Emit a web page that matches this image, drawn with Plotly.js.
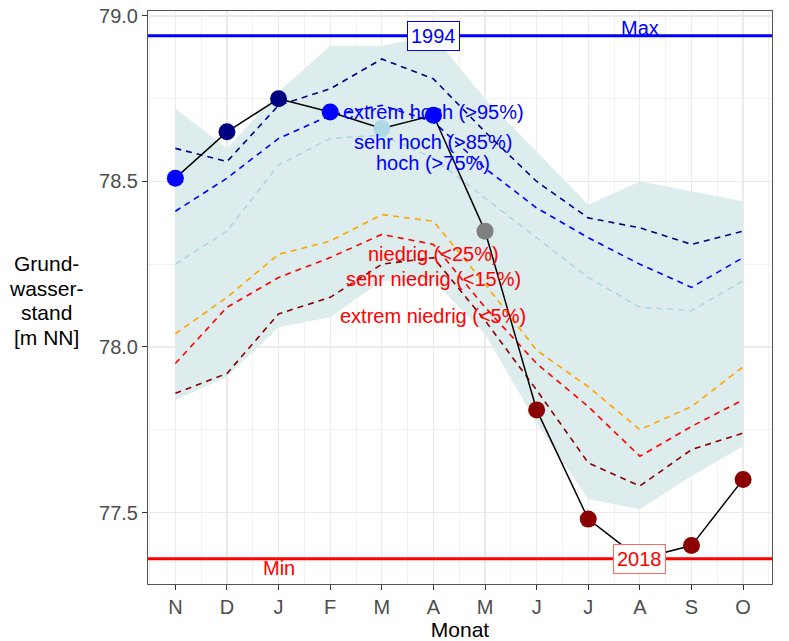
<!DOCTYPE html>
<html>
<head>
<meta charset="utf-8">
<script src="https://cdn.plot.ly/plotly-3.0.1.min.js"></script>
<style>
  html, body { margin: 0; padding: 0; background: #fff; }
  #chart { width: 789px; height: 641px; }
</style>
</head>
<body>
<div id="chart"></div>
<script>
// ---- data ----
const months = ['N', 'D', 'J', 'F', 'M', 'A', 'M', 'J', 'J', 'A', 'S', 'O'];

// observed groundwater level (black line with points)
const observed = [78.51, 78.65, 78.75, 78.71, 78.66, 78.70, 78.35, 77.81, 77.48, 77.36, 77.40, 77.60];
const observedClass = ['sehr hoch', 'extrem hoch', 'extrem hoch', 'sehr hoch', 'hoch', 'sehr hoch',
                       'normal', 'extrem niedrig', 'extrem niedrig', 'extrem niedrig', 'extrem niedrig', 'extrem niedrig'];

// range of all years (ribbon)
const rangeMax = [78.72, 78.60, 78.77, 78.91, 78.91, 78.94, 78.75, 78.59, 78.43, 78.50, 78.47, 78.44];
const rangeMin = [77.84, 77.91, 78.06, 78.09, 78.20, 78.20, 78.04, 77.77, 77.54, 77.51, 77.61, 77.70];

// percentile lines
const p95 = [78.60, 78.56, 78.73, 78.78, 78.87, 78.81, 78.65, 78.50, 78.39, 78.36, 78.31, 78.35];
const p85 = [78.41, 78.51, 78.63, 78.70, 78.73, 78.68, 78.54, 78.42, 78.33, 78.25, 78.18, 78.27];
const p75 = [78.25, 78.35, 78.55, 78.63, 78.64, 78.57, 78.45, 78.33, 78.21, 78.12, 78.11, 78.20];
const p25 = [78.04, 78.15, 78.28, 78.32, 78.40, 78.38, 78.19, 77.99, 77.88, 77.75, 77.82, 77.94];
const p15 = [77.95, 78.12, 78.21, 78.27, 78.34, 78.31, 78.12, 77.95, 77.82, 77.67, 77.76, 77.84];
const p05 = [77.86, 77.92, 78.10, 78.15, 78.25, 78.27, 78.08, 77.87, 77.65, 77.58, 77.69, 77.74];

// extremes
const maxLevel = 78.94, maxYear = '1994', maxMonthIndex = 5;
const minLevel = 77.36, minYear = '2018', minMonthIndex = 9;

// labels
const classLabels = [
  {text: 'extrem hoch (>95%)', y: 78.71, color: 'blue'},
  {text: 'sehr hoch (>85%)', y: 78.62, color: 'blue'},
  {text: 'hoch (>75%)', y: 78.555, color: 'blue'},
  {text: 'niedrig (<25%)', y: 78.282, color: 'red'},
  {text: 'sehr niedrig (<15%)', y: 78.205, color: 'red'},
  {text: 'extrem niedrig (<5%)', y: 78.095, color: 'red'}
];
const labelMonthIndex = 5;
const yTitleLines = ['Grund-', 'wasser-', 'stand', '[m NN]'];
const xTitle = 'Monat';

const classColors = {
  'extrem hoch': '#000080', 'sehr hoch': '#0000FF', 'hoch': '#ADD8E6',
  'normal': '#7F7F7F', 'niedrig': '#FFA500', 'sehr niedrig': '#FF0000', 'extrem niedrig': '#8B0000'
};

// ---- chart ----
const x = months.map((m, i) => i);
const FONT = '"Liberation Sans", Arial, sans-serif';
const dash = '6px,5px';

const traces = [
  {x: x, y: rangeMin, mode: 'lines', line: {width: 0, color: 'rgba(0,0,0,0)'}, hoverinfo: 'skip', showlegend: false},
  {x: x, y: rangeMax, mode: 'lines', line: {width: 0, color: 'rgba(0,0,0,0)'}, fill: 'tonexty',
   fillcolor: '#DDECEC', hoverinfo: 'skip', showlegend: false},
  {x: x, y: p05, mode: 'lines', line: {color: '#8B0000', width: 1.6, dash: dash}, showlegend: false},
  {x: x, y: p15, mode: 'lines', line: {color: '#FF0000', width: 1.6, dash: dash}, showlegend: false},
  {x: x, y: p25, mode: 'lines', line: {color: '#FFA500', width: 1.6, dash: dash}, showlegend: false},
  {x: x, y: p75, mode: 'lines', line: {color: '#ADD8E6', width: 1.6, dash: dash}, showlegend: false},
  {x: x, y: p85, mode: 'lines', line: {color: '#0000FF', width: 1.6, dash: dash}, showlegend: false},
  {x: x, y: p95, mode: 'lines', line: {color: '#000080', width: 1.6, dash: dash}, showlegend: false},
  {x: x, y: observed, mode: 'lines+markers', line: {color: '#000000', width: 1.5},
   marker: {size: 17, color: observedClass.map(c => classColors[c]), line: {width: 0}}, showlegend: false}
];

const annotations = classLabels.map(l => ({
  x: labelMonthIndex, y: l.y, xref: 'x', yref: 'y', text: l.text, showarrow: false,
  xanchor: 'center', yanchor: 'middle', font: {family: FONT, size: 20, color: l.color}
}));

annotations.push(
  {x: maxMonthIndex, y: maxLevel, xref: 'x', yref: 'y', text: maxYear, showarrow: false,
   bgcolor: '#FFFFFF', bordercolor: '#0000FF', borderwidth: 1, borderpad: 3,
   font: {family: FONT, size: 20, color: '#0000FF'}},
  {x: minMonthIndex, y: minLevel, xref: 'x', yref: 'y', text: minYear, showarrow: false,
   bgcolor: '#FFFFFF', bordercolor: '#FF6666', borderwidth: 1, borderpad: 3,
   font: {family: FONT, size: 20, color: '#FF0000'}},
  {x: minMonthIndex, y: maxLevel, xref: 'x', yref: 'y', text: 'Max', showarrow: false,
   yanchor: 'bottom', yshift: -5, font: {family: FONT, size: 20, color: '#0000FF'}},
  {x: 2, y: minLevel, xref: 'x', yref: 'y', text: 'Min', showarrow: false,
   yanchor: 'top', yshift: 4, font: {family: FONT, size: 20, color: '#FF0000'}}
);

// y-axis title, horizontal, one line per annotation (reference line spacing ~25px)
const yTitlePx = [263, 288, 312, 337];
yTitleLines.forEach((t, i) => {
  annotations.push({x: -0.162, y: (584 - yTitlePx[i]) / 573, xref: 'paper', yref: 'paper',
    xanchor: 'center', yanchor: 'middle', text: t, showarrow: false,
    font: {family: FONT, size: 21, color: '#000000'}});
});

const shapes = [
  {type: 'line', xref: 'paper', x0: 0, x1: 1, yref: 'y', y0: maxLevel, y1: maxLevel,
   line: {color: '#0000FF', width: 3}, layer: 'above'},
  {type: 'line', xref: 'paper', x0: 0, x1: 1, yref: 'y', y0: minLevel, y1: minLevel,
   line: {color: '#FF0000', width: 3}, layer: 'above'}
];

const layout = {
  width: 789, height: 641,
  margin: {l: 148, r: 17, t: 11, b: 57},
  paper_bgcolor: '#FFFFFF', plot_bgcolor: '#FFFFFF',
  font: {family: FONT},
  showlegend: false,
  xaxis: {
    range: [-0.53, 11.56], tickmode: 'array', tickvals: x, ticktext: months,
    ticks: 'outside', ticklen: 5, tickwidth: 1, tickcolor: '#333333',
    showgrid: true, gridcolor: '#EBEBEB', gridwidth: 1.2,
    minor: {tickmode: 'linear', tick0: -0.5, dtick: 1, showgrid: true, gridcolor: '#F0F0F0', gridwidth: 0.9, ticks: ''},
    zeroline: false, showline: true, mirror: true, linecolor: '#555555', linewidth: 1,
    tickfont: {family: FONT, size: 20, color: '#4D4D4D'},
    title: {text: xTitle, font: {family: FONT, size: 21, color: '#000000'}, standoff: 3}
  },
  yaxis: {
    range: [77.284, 79.015], tickmode: 'linear', tick0: 77.5, dtick: 0.5, tickformat: '.1f',
    ticks: 'outside', ticklen: 5, tickwidth: 1, tickcolor: '#333333',
    showgrid: true, gridcolor: '#EBEBEB', gridwidth: 1.2,
    minor: {tickmode: 'linear', tick0: 77.25, dtick: 0.5, showgrid: true, gridcolor: '#F0F0F0', gridwidth: 0.9, ticks: ''},
    zeroline: false, showline: true, mirror: true, linecolor: '#555555', linewidth: 1,
    tickfont: {family: FONT, size: 20, color: '#4D4D4D'}
  },
  annotations: annotations,
  shapes: shapes
};

Plotly.newPlot('chart', traces, layout, {displayModeBar: false, staticPlot: true});
</script>
</body>
</html>
